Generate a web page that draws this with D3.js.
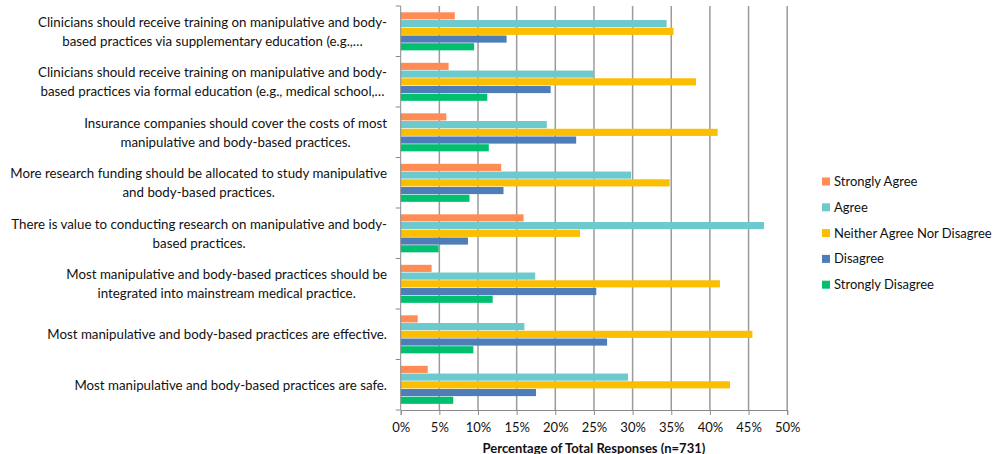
<!DOCTYPE html>
<html>
<head>
<meta charset="utf-8">
<script src="https://cdn.jsdelivr.net/npm/d3@7"></script>
<style>
  body { margin: 0; background: #fff; }
  svg text { font-family: Lato, "Open Sans", sans-serif; fill: #111; }
</style>
</head>
<body>
<div id="chart"></div>
<script>
// data
const categories = [
  "Clinicians should receive training on manipulative and body-\nbased practices via supplementary education (e.g.,…",
  "Clinicians should receive training on manipulative and body-\nbased practices via formal education (e.g., medical school,…",
  "Insurance companies should cover the costs of most\nmanipulative and body-based practices.",
  "More research funding should be allocated to study manipulative\nand body-based practices.",
  "There is value to conducting research on manipulative and body-\nbased practices.",
  "Most manipulative and body-based practices should be\nintegrated into mainstream medical practice.",
  "Most manipulative and body-based practices are effective.",
  "Most manipulative and body-based practices are safe."
];
const series = ["Strongly Agree", "Agree", "Neither Agree Nor Disagree", "Disagree", "Strongly Disagree"];
const colors = ["#FF8C55", "#6CC9CD", "#FBBE00", "#4F7DB8", "#00C06F"];

const stronglyAgree    = [7.0, 6.2, 5.9, 13.0, 15.9, 4.0, 2.2, 3.5];
const agree            = [34.4, 25.0, 18.9, 29.8, 47.0, 17.4, 16.0, 29.4];
const neither          = [35.3, 38.2, 41.0, 34.8, 23.2, 41.3, 45.5, 42.6];
const disagree         = [13.7, 19.4, 22.7, 13.3, 8.7, 25.3, 26.7, 17.5];
const stronglyDisagree = [9.5, 11.2, 11.4, 8.9, 4.9, 11.9, 9.4, 6.8];
const values = [stronglyAgree, agree, neither, disagree, stronglyDisagree];

const xTicks = [0, 5, 10, 15, 20, 25, 30, 35, 40, 45, 50];
const xTitle = "Percentage of Total Responses (n=731)";

// svg
const width = 993, height = 454;
const plot = { left: 400.7, right: 787.2, top: 6, bottom: 410 };
const labelRight = 387;

const svg = d3.select("#chart").append("svg")
  .attr("width", width)
  .attr("height", height);

// scales
const x = d3.scaleLinear().domain([0, 50]).range([plot.left, plot.right]);
const y = d3.scaleBand().domain(d3.range(categories.length)).range([plot.top, plot.bottom]);
const ySub = d3.scaleBand().domain(d3.range(series.length))
  .range([y.bandwidth() * 0.125, y.bandwidth() * 0.89]);

// gridlines
svg.append("g")
  .selectAll("line")
  .data(xTicks.slice(1))
  .join("line")
  .attr("x1", d => x(d)).attr("x2", d => x(d))
  .attr("y1", plot.top).attr("y2", plot.bottom)
  .attr("stroke", "#9b9b9b")
  .attr("stroke-width", 1.5);

// bars
const groups = svg.append("g")
  .selectAll("g")
  .data(categories)
  .join("g")
  .attr("transform", (d, i) => `translate(0,${y(i)})`);

groups.selectAll("rect")
  .data((d, i) => series.map((s, j) => ({ j, v: values[j][i] })))
  .join("rect")
  .attr("x", x(0))
  .attr("y", d => ySub(d.j))
  .attr("width", d => x(d.v) - x(0))
  .attr("height", ySub.bandwidth() - 0.6)
  .attr("fill", d => colors[d.j]);

// y axis
svg.append("line")
  .attr("x1", plot.left).attr("x2", plot.left)
  .attr("y1", plot.top).attr("y2", plot.bottom)
  .attr("stroke", "#8a8a8a").attr("stroke-width", 1);

svg.append("g")
  .selectAll("line")
  .data(d3.range(categories.length + 1))
  .join("line")
  .attr("x1", plot.left - 5).attr("x2", plot.left)
  .attr("y1", d => plot.top + d * y.step())
  .attr("y2", d => plot.top + d * y.step())
  .attr("stroke", "#8a8a8a");

// category labels (lines centred, block right-aligned)
const labels = svg.append("g")
  .selectAll("text")
  .data(categories)
  .join("text")
  .attr("text-anchor", "middle")
  .attr("font-size", 13.3)
  .attr("y", (d, i) => y(i) + y.bandwidth() / 2);

labels.each(function (d) {
  const lines = d.split("\n");
  const t = d3.select(this);
  const spans = lines.map((l, k) =>
    t.append("tspan")
      .attr("dy", k === 0 ? (5 - (lines.length - 1) * 9.7) : 19.4)
      .text(l));
  const maxW = d3.max(spans, s => s.node().getComputedTextLength());
  spans.forEach(s => s.attr("x", labelRight - maxW / 2));
});

// x axis
const xAxis = svg.append("g")
  .attr("transform", `translate(0,${plot.bottom})`)
  .call(d3.axisBottom(x).tickValues(xTicks).tickSize(5).tickPadding(8).tickFormat(d => d + "%"));
xAxis.select(".domain").attr("stroke", "#8a8a8a");
xAxis.selectAll(".tick line").attr("stroke", "#8a8a8a");
xAxis.selectAll("text").attr("font-size", 13).attr("font-family", "Lato, sans-serif").attr("fill", "#111");

svg.append("text")
  .attr("x", (plot.left + plot.right) / 2)
  .attr("y", 452.5)
  .attr("text-anchor", "middle")
  .attr("font-size", 13)
  .attr("font-weight", "bold")
  .text(xTitle);

// legend
const legend = svg.append("g")
  .selectAll("g")
  .data(series)
  .join("g")
  .attr("transform", (d, i) => `translate(822,${181.5 + i * 25.8})`);

legend.append("rect")
  .attr("x", 0).attr("y", -4)
  .attr("width", 8).attr("height", 8)
  .attr("fill", (d, i) => colors[i]);

legend.append("text")
  .attr("x", 12)
  .attr("y", 4.5)
  .attr("font-size", 13)
  .text(d => d);
</script>
</body>
</html>
